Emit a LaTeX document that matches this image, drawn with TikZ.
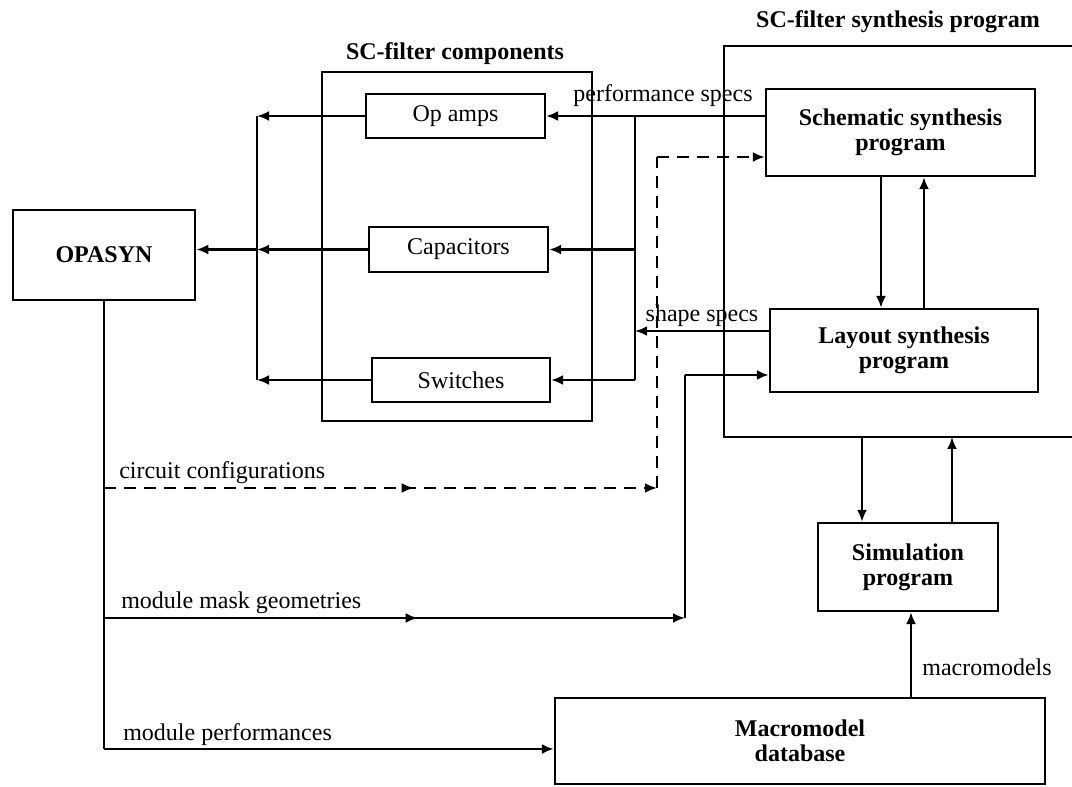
\documentclass[tikz,border=0pt]{standalone}
\usepackage{fontspec}
\setmainfont{Liberation Serif}
\usetikzlibrary{arrows.meta,decorations.markings}
\begin{document}
\begin{tikzpicture}[x=0.75pt,y=-0.75pt,
  line width=1.9pt,
  tip/.style={-{Latex[length=9pt,width=7.5pt]}},
  box/.style={draw, line width=1.7pt, inner sep=0pt, align=center,
    font=\fontsize{18}{19}\selectfont},
  bbox/.style={box, font=\fontsize{18}{19}\selectfont\bfseries},
  lbl/.style={inner sep=0pt, font=\fontsize{18}{20}\selectfont},
  ttl/.style={inner sep=0pt, font=\fontsize{18}{20}\selectfont\bfseries},
  midtip/.style={postaction={decorate}, decoration={markings,
    mark=at position #1 with {\arrow{Latex[length=9pt,width=7.5pt]}}}},
  dash line/.style={dash pattern=on 9pt off 6pt},
]
\path[use as bounding box] (0,0) rectangle (1072,787);

% ---- group frames and titles
\node[draw, line width=2pt, inner sep=0pt, minimum width=270*0.75pt,
      minimum height=349*0.75pt] (comp) at (457,246.5) {};
\node[ttl] (comptitle) at (455,54) {SC-filter components};
\coordinate (synTR) at (1072,46);
\coordinate (synTL) at (724,46);
\coordinate (synBL) at (724,437);
\coordinate (synBR) at (1072,437);
\draw[line width=2pt] (synTR) -- (synTL) -- (synBL) -- (synBR);
\node[ttl] (syntitle) at (898,22) {SC-filter synthesis program};

% ---- blocks
\node[bbox, line width=2pt, minimum width=182*0.75pt, minimum height=90*0.75pt]
  (opasyn) at (104,255) {OPASYN};
\node[box, minimum width=179*0.75pt, minimum height=44*0.75pt] (opamps) at (455.5,116) {Op amps};
\node[box, minimum width=179*0.75pt, minimum height=45*0.75pt] (caps) at (458.5,249.5) {Capacitors};
\node[box, minimum width=178*0.75pt, minimum height=44*0.75pt] (switches) at (461,380) {Switches};
\node[bbox, minimum width=269*0.75pt, minimum height=87*0.75pt] (schem) at (900.5,132.5)
  {Schematic synthesis\\program};
\node[bbox, minimum width=268*0.75pt, minimum height=83*0.75pt] (layout) at (904,350.5)
  {Layout synthesis\\program};
\node[bbox, minimum width=180*0.75pt, minimum height=88*0.75pt] (sim) at (908,567)
  {Simulation\\program};
\node[bbox, minimum width=490*0.75pt, minimum height=86*0.75pt] (macro) at (800,741)
  {Macromodel\\database};

% ---- components to OPASYN
\coordinate (lbT) at (257,116);
\coordinate (lbB) at (257,380);
\coordinate (lbM) at (257,249.5);
\draw[tip] (opamps.west) -- (lbT);
\draw (lbT) -- (lbB);
\draw[tip] (switches.west) -- (lbB);
\draw[tip] (caps.west) -- (lbM);
\draw[tip] (lbM) -- (opasyn.east |- lbM);

% ---- specs from the synthesis programs to the components
\coordinate (rbT) at (635,116);
\coordinate (rbB) at (635,380);
\draw[tip] (schem.west |- opamps.east) -- (opamps.east);
\node[lbl] (pslbl) at (663,96) {performance specs};
\draw (rbT) -- (rbB);
\draw[tip] (rbT |- caps.east) -- (caps.east);
\draw[tip] (rbB) -- (switches.east);
\coordinate (ssL) at (770,331);
\draw[tip] (ssL) -- (rbT |- ssL);
\node[lbl] (sslbl) at (702,316) {shape specs};

% ---- schematic <-> layout
\draw[tip] (schem.south -| 881,0) -- (layout.north -| 881,0);
\draw[tip] (layout.north -| 924,0) -- (schem.south -| 924,0);

% ---- synthesis program <-> simulation
\draw[tip] (synBL -| 862,0) -- (sim.north -| 862,0);
\draw[tip] (sim.north -| 952,0) -- (synBL -| 952,0);
\draw[tip] (macro.north -| 911,0) -- (sim.south -| 911,0);
\node[lbl] (mmlbl) at (987,667) {macromodels};

% ---- OPASYN outputs
\coordinate (d1) at (104,488);
\coordinate (d2) at (657,488);
\coordinate (d3) at (657,157);
\coordinate (m1) at (104,618);
\coordinate (m2) at (685,618);
\coordinate (m3) at (685,375);
\coordinate (p1) at (104,749);
\draw (opasyn.south) -- (p1);
\draw[dash line, tip, midtip=0.56] (d1) -- (d2);
\draw[dash line] (d2) -- (d3);
\draw[dash line, tip] (d3) -- (schem.west |- d3);
\node[lbl, anchor=west] (cclbl) at (118,473) {circuit configurations};
\draw[tip, midtip=0.54] (m1) -- (m2);
\draw (m2) -- (m3);
\draw[tip] (m3) -- (layout.west |- m3);
\node[lbl, anchor=west] (mglbl) at (120,603) {module mask geometries};
\draw[tip] (p1) -- (macro.west |- p1);
\node[lbl, anchor=west] (mplbl) at (122,735) {module performances};
\end{tikzpicture}
\end{document}
